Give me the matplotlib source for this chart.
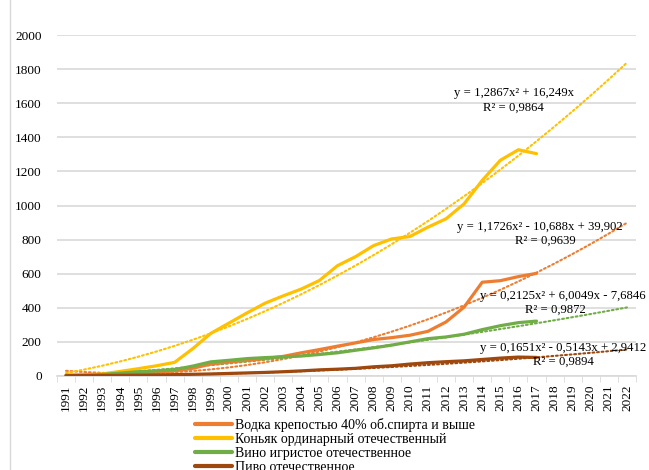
import numpy as np
import matplotlib
matplotlib.use("Agg")
import matplotlib.pyplot as plt
from matplotlib.lines import Line2D

plt.rcParams['font.family'] = ['Liberation Serif', 'DejaVu Serif']

# ---- data ----
categories = [str(y) for y in range(1991, 2023)]
years_data = list(range(1991, 2018))

vodka = [5, 5, 6, 10, 15, 22, 30, 45, 70, 82, 92, 102, 115, 136, 155, 175,
         194, 214, 225, 239, 262, 317, 404, 550, 559, 583, 602]
cognac = [4, 6, 12, 27, 43, 60, 80, 160, 250, 310, 370, 427, 470, 510, 560, 647,
          700, 765, 804, 818, 873, 922, 1010, 1147, 1265, 1327, 1304]
wine = [3, 4, 9, 17, 25, 30, 38, 58, 83, 92, 102, 108, 112, 117, 126, 136,
        151, 165, 181, 200, 219, 229, 245, 272, 295, 313, 322]
beer = [2, 3, 3, 4, 5, 6, 8, 10, 12, 15, 18, 21, 25, 30, 36, 40,
        45, 54, 60, 70, 78, 84, 89, 97, 105, 111, 109]

labels = ["Водка крепостью 40% об.спирта и выше",
          "Коньяк ординарный отечественный",
          "Вино игристое отечественное",
          "Пиво отечественное"]

# trendline coefficients (a, b, c) shown on the chart
coef_vodka = [1.1726, -10.688, 39.902]
coef_cognac = [1.2867, 16.249, 0.0]
coef_wine = [0.2125, 6.0049, -7.6846]
coef_beer = [0.1651, -0.5143, 2.9412]

eq_texts = [("y = 1,2867x² + 16,249x", "R² = 0,9864"),
            ("y = 1,1726x² - 10,688x + 39,902", "R² = 0,9639"),
            ("y = 0,2125x² + 6,0049x - 7,6846", "R² = 0,9872"),
            ("y = 0,1651x² - 0,5143x + 2,9412", "R² = 0,9894")]

colors = ['#ED7D31', '#FFC000', '#70AD47', '#9E480E']

W, H = 649, 470
fig = plt.figure(figsize=(W / 100, H / 100), dpi=100)
fig.patch.set_facecolor('white')

def px(x, y):
    return x / W, 1 - y / H

L, R, T, B = 57, 636, 35, 376
ax = fig.add_axes([L / W, 1 - B / H, (R - L) / W, (B - T) / H])

n_cat = len(categories)
xd = np.arange(len(years_data))
series = [vodka, cognac, wine, beer]
coefs = [coef_vodka, coef_cognac, coef_wine, coef_beer]

for s, c, lab in zip(series, colors, labels):
    ax.plot(xd, s, color=c, lw=2.3, solid_capstyle='round', solid_joinstyle='round',
            label=lab, zorder=3)

xt = np.arange(n_cat)
for cf, c in zip(coefs, colors):
    t = xt + 1
    ax.plot(xt, cf[0] * t ** 2 + cf[1] * t + cf[2], color=c, lw=1.5,
            linestyle=(0, (0.9, 1.3)), dash_capstyle='round', zorder=2)

ax.set_xlim(-0.5, n_cat - 0.5)
ax.set_ylim(0, 2000)
ax.set_yticks(np.arange(0, 2001, 200))
ax.set_xticks(xt)
ax.set_xticklabels(categories, rotation=90, fontsize=9.5)
ax.tick_params(axis='y', length=0, labelsize=9.5, pad=11)
ax.tick_params(axis='x', length=0, pad=6)
ax.set_xticks(np.arange(-0.5, n_cat, 1), minor=True)
ax.tick_params(axis='x', which='minor', length=4, color='#D9D9D9')
ax.grid(axis='y', color='#D9D9D9', lw=1.2, zorder=0)
for sp in ['top', 'right', 'left']:
    ax.spines[sp].set_visible(False)
ax.spines['bottom'].set_color('#D9D9D9')
ax.spines['bottom'].set_linewidth(1.2)

# trendline equation labels
eq_pos = [(514, 93, 513, 108), (540, 227, 545, 241), (563, 296, 555, 310), (563, 348, 563, 362)]
for (e, r2), (x1, y1, x2, y2) in zip(eq_texts, eq_pos):
    fig.text(*px(x1, y1), e, ha='center', va='center', fontsize=9.2)
    fig.text(*px(x2, y2), r2, ha='center', va='center', fontsize=9.2)

leg = fig.legend(handles=ax.get_lines()[:4], labels=labels, loc='upper left',
                 bbox_to_anchor=px(195, 418), frameon=False, fontsize=10,
                 handlelength=2.65, handletextpad=0.2, labelspacing=0.07,
                 borderpad=0, borderaxespad=0)
for h in leg.get_lines():
    h.set_linewidth(3)

fig.add_artist(Line2D([10 / W, 10 / W], [0, 1], color='#D9D9D9', lw=1))

fig.savefig('out.png', dpi=100, facecolor='white')
